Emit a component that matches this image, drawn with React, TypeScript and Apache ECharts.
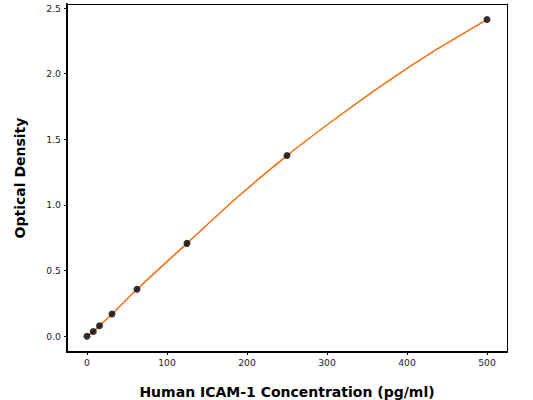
import React, { useEffect, useRef } from "react";
import * as echarts from "echarts";

// measured standards
const concentrations = [0, 7.8, 15.6, 31.25, 62.5, 125, 250, 500];
const densities = [0.0, 0.035, 0.079, 0.169, 0.357, 0.707, 1.376, 2.412];
// fitted curve
const curveX = [0, 7.8, 15.6, 31.25, 62.5, 125, 187.5, 250, 312.5, 375, 437.5, 500];
const curveY = [0.0, 0.035, 0.079, 0.169, 0.357, 0.707, 1.056, 1.376, 1.666, 1.938, 2.186, 2.412];
const xTicks = [0, 100, 200, 300, 400, 500];
const yTicks = [0, 0.5, 1.0, 1.5, 2.0, 2.5];
const xTitle = "Human ICAM-1 Concentration (pg/ml)";
const yTitle = "Optical Density";

const FONT = "DejaVu Sans";

export default function App() {
  const ref = useRef<HTMLDivElement>(null);
  useEffect(() => {
    document.body.style.margin = "0";
    const chart = echarts.init(ref.current!, undefined, { renderer: "svg" });
    const pts = concentrations.map((c, i) => [c, densities[i]]);
    const curve = curveX.map((c, i) => [c, curveY[i]]);
    chart.setOption({
      animation: false,
      backgroundColor: "#ffffff",
      grid: { left: 67, right: 26, top: 4, bottom: 48, containLabel: false, outerBoundsMode: "none" },
      xAxis: [
        {
          type: "value",
          min: -25,
          max: 525,
          position: "bottom",
          name: xTitle,
          nameLocation: "middle",
          nameGap: 33,
          nameTextStyle: { fontFamily: FONT, fontSize: 14, fontWeight: "bold", color: "#000" },
          axisLine: { show: true, onZero: false, lineStyle: { color: "#000", width: 2 } },
          axisTick: { show: true, length: 3, inside: false, lineStyle: { color: "#000", width: 1 }, customValues: xTicks },
          axisLabel: { customValues: xTicks, fontFamily: FONT, fontSize: 9.25, color: "#222", margin: 6 },
          splitLine: { show: false },
        },
        {
          type: "value",
          min: -25,
          max: 525,
          position: "top",
          axisLine: { show: true, onZero: false, lineStyle: { color: "#000", width: 1 } },
          axisTick: { show: false },
          axisLabel: { show: false },
          splitLine: { show: false },
        },
      ],
      yAxis: [
        {
          type: "value",
          min: -0.1205,
          max: 2.5305,
          position: "left",
          name: yTitle,
          nameLocation: "middle",
          nameGap: 40,
          nameRotate: 90,
          nameTextStyle: { fontFamily: FONT, fontSize: 14, fontWeight: "bold", color: "#000" },
          axisLine: { show: true, onZero: false, lineStyle: { color: "#000", width: 2 } },
          axisTick: { show: true, length: 3, lineStyle: { color: "#000", width: 1 }, customValues: yTicks },
          axisLabel: {
            customValues: yTicks,
            fontFamily: FONT,
            fontSize: 9.25,
            color: "#222",
            margin: 6,
            formatter: (v: number) => v.toFixed(1),
          },
          splitLine: { show: false },
        },
        {
          type: "value",
          min: -0.1205,
          max: 2.5305,
          position: "right",
          axisLine: { show: true, onZero: false, lineStyle: { color: "#000", width: 1 } },
          axisTick: { show: false },
          axisLabel: { show: false },
          splitLine: { show: false },
        },
      ],
      series: [
        {
          type: "line",
          data: curve,
          smooth: 0.3,
          showSymbol: false,
          symbol: "none",
          lineStyle: { color: "#fa6a0a", width: 1.5 },
          z: 2,
        },
        {
          type: "scatter",
          data: pts,
          symbol: "circle",
          symbolSize: 7,
          itemStyle: { color: "#000" },
          z: 3,
        },
      ],
    });
    return () => chart.dispose();
  }, []);
  return <div ref={ref} style={{ width: 533, height: 400 }} />;
}
